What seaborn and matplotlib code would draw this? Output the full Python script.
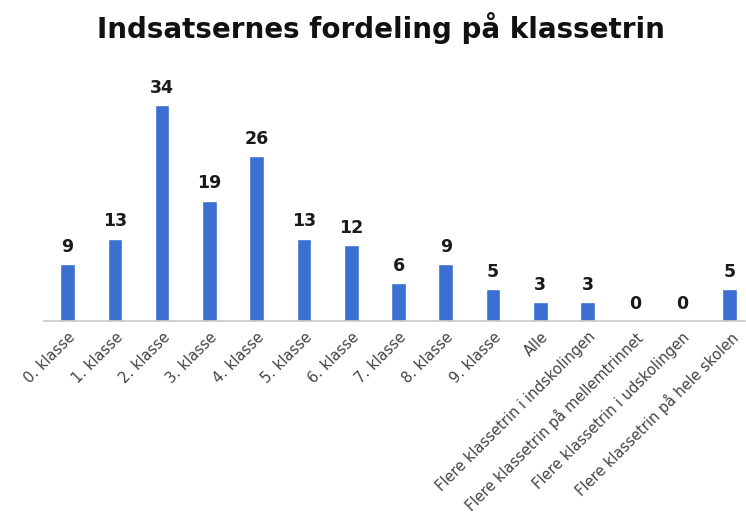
import matplotlib
matplotlib.use("Agg")
import matplotlib.pyplot as plt
import pandas as pd
import seaborn as sns

categories = [
    "0. klasse", "1. klasse", "2. klasse", "3. klasse", "4. klasse",
    "5. klasse", "6. klasse", "7. klasse", "8. klasse", "9. klasse",
    "Alle",
    "Flere klassetrin i indskolingen",
    "Flere klassetrin på mellemtrinnet",
    "Flere klassetrin i udskolingen",
    "Flere klassetrin på hele skolen",
]
counts = [9, 13, 34, 19, 26, 13, 12, 6, 9, 5, 3, 3, 0, 0, 5]

df = pd.DataFrame({"klassetrin": categories, "antal": counts})

sns.set_style("white")
plt.rcParams["font.family"] = ["DejaVu Sans"]

fig = plt.figure(figsize=(7.46, 5.32), dpi=100)
ax = fig.add_axes([44 / 746, 1 - 321 / 532, (745 - 44) / 746, (321 - 80) / 532])

sns.barplot(data=df, x="klassetrin", y="antal", color="#3b6fd1", saturation=1,
            width=0.31, ax=ax)

for i, v in enumerate(counts):
    ax.text(i, v + 1.3, str(v), ha="center", va="bottom",
            fontsize=12.5, fontweight="bold", color="#1a1a1a")

ax.set_xlim(-0.5, 14.33)
ax.set_ylim(0, 38)
ax.set_xlabel("")
ax.set_ylabel("")
ax.set_yticks([])
ax.tick_params(axis="x", length=0, pad=6)
plt.setp(ax.get_xticklabels(), rotation=45, ha="right", rotation_mode="anchor",
         fontsize=10.5, color="#444444")

for s in ["top", "right", "left"]:
    ax.spines[s].set_visible(False)
ax.spines["bottom"].set_color("#c8c8c8")
ax.spines["bottom"].set_linewidth(1.2)

fig.text(0.51, 0.948, "Indsatsernes fordeling på klassetrin", ha="center", va="center",
         fontsize=20, fontweight="bold", color="#111111")

fig.savefig("out.png", dpi=100)
